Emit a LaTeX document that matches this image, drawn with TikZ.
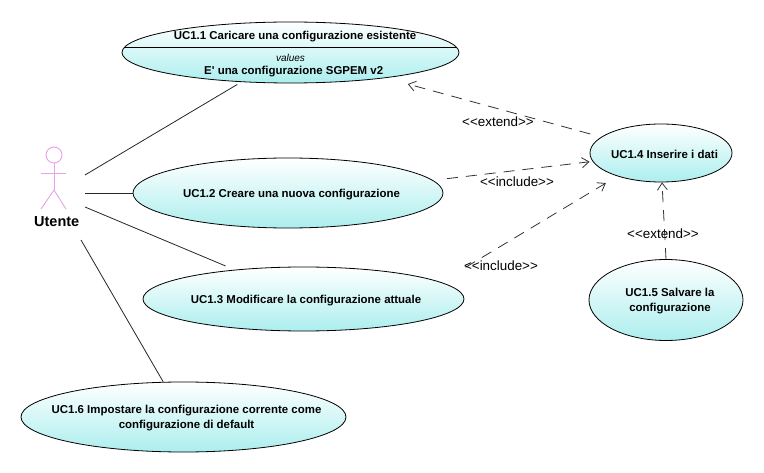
\documentclass[tikz,border=0pt]{standalone}
\usepackage{fontspec}
\setmainfont{Liberation Sans}
\usetikzlibrary{shapes.geometric,arrows.meta}
\definecolor{ucfill}{RGB}{172,238,238}
\definecolor{actorpink}{RGB}{232,160,232}
\tikzset{
  usecase/.style={ellipse, draw=black, line width=0.8pt, inner sep=0pt, top color=white, bottom color=ucfill},
  uctext/.style={font=\fontsize{11.45}{15}\selectfont\bfseries, align=center, inner sep=0pt, yshift=-1.5pt},
  stereo/.style={font=\fontsize{13.4}{15}\selectfont, inner sep=0pt},
  assoc/.style={draw=black!85, line width=0.8pt},
  depend/.style={draw=black!80, line width=0.8pt, dash pattern=on 11pt off 8pt, -{Straight Barb[length=7pt,width=10pt]}},
  actorline/.style={draw=actorpink, line width=0.9pt}
}
\begin{document}
\begin{tikzpicture}[x=1pt,y=-1pt]
\useasboundingbox (0,0) rectangle (764,473);
% use cases
\node[usecase, minimum width=337pt, minimum height=61pt] (uc11) at (290.5,52.5){};
\node[usecase, minimum width=310pt, minimum height=70pt, label={[uctext,xshift=3.5pt]center:UC1.2 Creare una nuova configurazione}] (uc12) at (288,193){};
\node[usecase, minimum width=321pt, minimum height=64pt, label={[uctext,xshift=2.5pt]center:UC1.3 Modificare la configurazione attuale}] (uc13) at (303.5,299){};
\node[usecase, minimum width=142pt, minimum height=58pt, label={[uctext,xshift=3.5pt]center:UC1.4 Inserire i dati}] (uc14) at (661,153){};
\node[usecase, minimum width=154pt, minimum height=81pt, label={[uctext,xshift=4pt]center:UC1.5 Salvare la\\configurazione}] (uc15) at (666,300){};
\node[usecase, minimum width=325pt, minimum height=70pt, label={[uctext,xshift=3pt]center:UC1.6 Impostare la configurazione corrente come\\configurazione di default}] (uc16) at (183.5,417){};
% compartment of the first one
\node[uctext] (uc11name) at (295,35){UC1.1 Caricare una configurazione esistente};
\node[font=\fontsize{10}{11}\selectfont\itshape, inner sep=0pt] (uc11values) at (290.5,58){values};
\node[uctext] (uc11value) at (293.7,70.3){E\textquotesingle{} una configurazione SGPEM v2};
\coordinate (uc11left) at (124.8,47);
\coordinate (uc11right) at (456.2,47);
\draw[assoc, black](uc11left) -- (uc11right);
% actor
\node[circle, actorline, minimum size=16pt, inner sep=0pt] (head) at (54,155){};
\coordinate (hip) at (54,190);
\coordinate (armleft) at (41,173);
\coordinate (armright) at (66,173);
\coordinate (footleft) at (41,209);
\coordinate (footright) at (66,209);
\draw[actorline](head) -- (hip);
\draw[actorline](armleft) -- (armright);
\draw[actorline](hip) -- (footleft);
\draw[actorline](hip) -- (footright);
\node[font=\fontsize{14.5}{16}\selectfont\bfseries, inner sep=0pt] (utente) at (56.7,221.5){Utente};
% associations
\coordinate (assoca) at (85,175);
\coordinate (assocb) at (85,193);
\coordinate (assocc) at (85,207);
\coordinate (assocd) at (81,240);
\draw[assoc, shorten >=4.7pt](assoca) -- (uc11.211);
\draw[assoc](assocb) -- (uc12.west);
\draw[assoc, shorten >=9.8pt](assocc) -- (uc13.157.1);
\draw[assoc](assocd) -- (uc16.120.4);
% dependencies
\draw[depend, shorten <=11.4pt, shorten >=22.9pt](uc14.165.1) -- (uc11.345);
\draw[depend, shorten <=14pt, shorten >=3pt](uc12.5.9) -- (uc14.187.3);
\draw[depend, shorten <=28.8pt, shorten >=13.3pt](uc13.7.8) -- (uc14.208.8);
\draw[depend](uc15.north) -- (uc14.272.6);
% stereotypes
\node[stereo] (extenda) at (498,122){<{}<extend>{}>};
\node[stereo] (includea) at (517,182){<{}<include>{}>};
\node[stereo] (includeb) at (501,266){<{}<include>{}>};
\node[stereo] (extendb) at (663,234){<{}<extend>{}>};
\end{tikzpicture}
\end{document}
